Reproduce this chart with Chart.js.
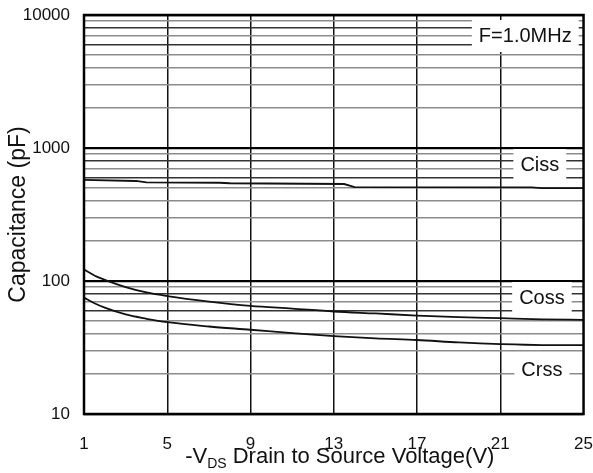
<!DOCTYPE html>
<html>
<head>
<meta charset="utf-8">
<script src="https://cdn.jsdelivr.net/npm/chart.js@4.4.0/dist/chart.umd.min.js"></script>
<style>
  html, body { margin: 0; padding: 0; background: #fff; }
  #wrap { width: 593px; height: 473px; }
</style>
</head>
<body>
<div id="wrap"><canvas id="capChart"></canvas></div>
<script>
// Capacitance vs -VDS, F = 1.0 MHz
const cissV = [1, 3.5, 4, 7.5, 8, 13.5, 14, 22.5, 23, 25];
const cissPF = [575, 565, 552, 548, 543, 536, 508, 505, 500, 500];

const cossV = [1, 1.5, 2, 3, 4, 5, 7, 9, 11, 13, 15, 17, 19, 21, 23, 25];
const cossPF = [122, 110, 102, 90, 82, 77, 70, 65, 62, 59, 57, 55, 53.5, 52.5, 51.5, 51];

const crssV = [1, 1.5, 2, 3, 4, 5, 7, 9, 11, 13, 15, 17, 19, 21, 23, 25];
const crssPF = [75, 68, 63, 56, 52, 49, 45.5, 43, 40.5, 38.5, 37, 36, 34.5, 33.5, 33, 33];

const xTicks = [1, 5, 9, 13, 17, 21, 25];
const yGrid = [10, 20, 30, 40, 50, 60, 70, 80, 90,
               100, 200, 300, 400, 500, 600, 700, 800, 900,
               1000, 2000, 3000, 4000, 5000, 6000, 7000, 8000, 9000, 10000];
const yLabels = [10, 100, 1000, 10000];

const curveLabels = [
  { text: 'F=1.0MHz', x: 22.2, y: 6950 },
  { text: 'Ciss', x: 22.9, y: 745 },
  { text: 'Coss', x: 23.0, y: 74.5 },
  { text: 'Crss', x: 23.0, y: 21.4 }
];

const FONT = "'Liberation Sans', Arial, sans-serif";

function toPoints(xs, ys) {
  return xs.map((x, i) => ({ x: x, y: ys[i] }));
}

function isDecade(v) {
  return Math.abs(Math.log10(v) - Math.round(Math.log10(v))) < 1e-9;
}

// white boxed curve names, drawn over the grid
const labelPlugin = {
  id: 'curveLabels',
  beforeDatasetsDraw(chart) {
    const c = chart.ctx;
    const xs = chart.scales.x, ys = chart.scales.y;
    c.save();
    c.font = '20px ' + FONT;
    c.textAlign = 'center';
    c.textBaseline = 'middle';
    curveLabels.forEach(l => {
      const px = xs.getPixelForValue(l.x);
      const py = ys.getPixelForValue(l.y);
      const w = c.measureText(l.text).width + 14;
      c.fillStyle = '#fff';
      c.fillRect(px - w / 2, py - 16, w, 32);
      c.fillStyle = '#111';
      c.fillText(l.text, px, py);
    });
    c.restore();
  },
  afterDatasetsDraw(chart) {
    const a = chart.chartArea;
    const c = chart.ctx;
    c.save();
    c.strokeStyle = '#000';
    c.lineWidth = 2.5;
    c.strokeRect(a.left, a.top, a.right - a.left, a.bottom - a.top);
    c.restore();
  },
  afterDraw(chart) {
    // x title with subscript DS
    const c = chart.ctx;
    const a = chart.chartArea;
    const big = '22px ' + FONT, small = '14px ' + FONT;
    const p1 = '-V', p2 = 'DS', p3 = ' Drain to Source Voltage(V)';
    c.save();
    c.fillStyle = '#111';
    c.textBaseline = 'alphabetic';
    c.textAlign = 'left';
    c.font = big;
    const w1 = c.measureText(p1).width, w3 = c.measureText(p3).width;
    c.font = small;
    const w2 = c.measureText(p2).width;
    let x = (a.left + a.right) / 2 + 6 - (w1 + w2 + w3) / 2;
    const base = 463;
    c.font = big;
    c.fillText(p1, x, base);
    x += w1;
    c.font = small;
    c.fillText(p2, x, base + 5);
    x += w2;
    c.font = big;
    c.fillText(p3, x, base);
    c.restore();
  }
};

const curveStyle = {
  borderColor: '#111',
  borderWidth: 1.8,
  pointRadius: 0,
  fill: false
};

new Chart(document.getElementById('capChart').getContext('2d'), {
  type: 'line',
  data: {
    datasets: [
      Object.assign({ label: 'Ciss', data: toPoints(cissV, cissPF), tension: 0 }, curveStyle),
      Object.assign({ label: 'Coss', data: toPoints(cossV, cossPF), cubicInterpolationMode: 'monotone' }, curveStyle),
      Object.assign({ label: 'Crss', data: toPoints(crssV, crssPF), cubicInterpolationMode: 'monotone' }, curveStyle)
    ]
  },
  options: {
    animation: false,
    responsive: true,
    maintainAspectRatio: false,
    layout: { padding: { top: 15, right: 8, left: 0, bottom: 0 } },
    plugins: {
      legend: { display: false },
      tooltip: { enabled: false }
    },
    scales: {
      x: {
        type: 'linear',
        min: 1,
        max: 25,
        afterBuildTicks: scale => { scale.ticks = xTicks.map(v => ({ value: v })); },
        afterFit: scale => { scale.height = 59; },
        ticks: {
          color: '#111',
          padding: 0,
          maxRotation: 0,
          autoSkip: false,
          font: { family: FONT, size: 17 }
        },
        grid: {
          drawTicks: true,
          tickLength: 20,
          tickColor: 'rgba(0,0,0,0)',
          color: ctx => (ctx.tick && (ctx.tick.value === 1 || ctx.tick.value === 25)) ? 'rgba(0,0,0,0)' : '#111',
          lineWidth: 1.5
        },
        border: { display: false }
      },
      y: {
        type: 'logarithmic',
        min: 10,
        max: 10000,
        afterBuildTicks: scale => { scale.ticks = yGrid.map(v => ({ value: v })); },
        afterFit: scale => { scale.width = 84; },
        ticks: {
          color: '#111',
          padding: 2,
          autoSkip: false,
          font: { family: FONT, size: 17 },
          callback: v => yLabels.includes(v) ? String(v) : ''
        },
        grid: {
          drawTicks: true,
          tickLength: 12,
          tickColor: 'rgba(0,0,0,0)',
          color: ctx => {
            const v = ctx.tick ? ctx.tick.value : 0;
            if (isDecade(v)) return '#000';
            const m = Math.round(v / Math.pow(10, Math.floor(Math.log10(v))));
            return (m === 6 || m === 8) ? '#333' : '#8c8c8c';
          },
          lineWidth: ctx => {
            const v = ctx.tick ? ctx.tick.value : 0;
            return isDecade(v) ? 2.2 : 1.5;
          }
        },
        border: { display: false },
        title: {
          display: true,
          text: 'Capacitance (pF)',
          color: '#111',
          font: { family: FONT, size: 23 },
          padding: { top: 5, bottom: 0 }
        }
      }
    }
  },
  plugins: [labelPlugin]
});
</script>
</body>
</html>
